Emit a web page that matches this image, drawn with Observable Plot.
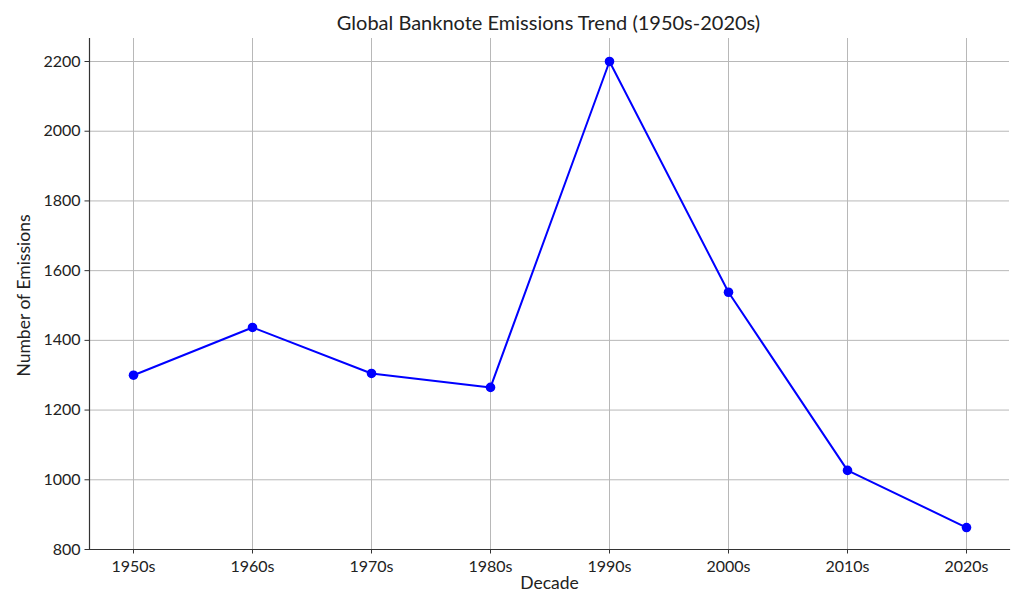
<!DOCTYPE html>
<html>
<head>
<meta charset="utf-8">
<script src="https://cdn.jsdelivr.net/npm/d3@7"></script>
<script src="https://cdn.jsdelivr.net/npm/@observablehq/plot@0.6"></script>
<style>
  html, body { margin: 0; padding: 0; background: #fff; }
  body { width: 1024px; height: 614px; overflow: hidden; font-family: Lato, "Open Sans", sans-serif; }
  #title { position: relative; height: 30px; width: 1024px; }
  #title span { position: absolute; left: 548.5px; top: 12px; transform: translateX(-50%); font-size: 20px; color: #222; white-space: nowrap; line-height: 20px; }
</style>
</head>
<body>
<div id="title"><span>Global Banknote Emissions Trend (1950s-2020s)</span></div>
<div id="chart"></div>
<script>
const decades = ["1950s", "1960s", "1970s", "1980s", "1990s", "2000s", "2010s", "2020s"];
const emissions = [1300, 1437, 1305, 1265, 2200, 1538, 1027, 863];
const yTicks = [800, 1000, 1200, 1400, 1600, 1800, 2000, 2200];

const data = decades.map((d, i) => ({decade: d, value: emissions[i]}));

const chart = Plot.plot({
  width: 1024,
  height: 584,
  marginTop: 8,
  marginLeft: 89,
  marginRight: 15,
  marginBottom: 65,
  style: {fontFamily: "Lato, 'Open Sans', sans-serif", fontSize: "16px", color: "#222", background: "#fff", overflow: "visible"},
  x: {type: "point", domain: decades, padding: 0.35, label: null},
  y: {domain: [800, 2266], label: null},
  marks: [
    Plot.gridX(decades, {stroke: "#b8b8b8", strokeOpacity: 1, strokeWidth: 1}),
    Plot.gridY(yTicks, {stroke: "#b8b8b8", strokeOpacity: 1, strokeWidth: 1}),
    Plot.frame({anchor: "left", stroke: "#333", strokeWidth: 1.2}),
    Plot.frame({anchor: "bottom", stroke: "#333", strokeWidth: 1.2}),
    Plot.axisX(decades, {tickSize: 4.5, tickPadding: 7, fontSize: 16, stroke: "#333", label: null}),
    Plot.axisY(yTicks, {tickSize: 4.5, tickPadding: 4.5, fontSize: 16, stroke: "#333", label: null, tickFormat: d => String(d)}),
    Plot.line(data, {x: "decade", y: "value", stroke: "#0000ff", strokeWidth: 2}),
    Plot.dot(data, {x: "decade", y: "value", fill: "#0000ff", r: 4.8}),
    Plot.text(["Decade"], {frameAnchor: "bottom", dy: 39, fontSize: 17.5, fill: "#222"}),
    Plot.text(["Number of Emissions"], {frameAnchor: "left", textAnchor: "middle", dx: -65.5, dy: 1.5, rotate: -90, fontSize: 17.5, fill: "#222"})
  ]
});
document.getElementById("chart").appendChild(chart);
</script>
</body>
</html>
